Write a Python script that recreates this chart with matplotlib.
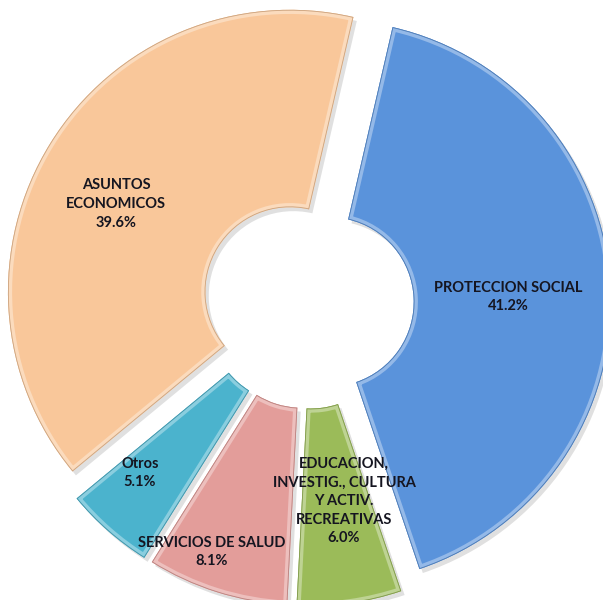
import matplotlib.pyplot as plt
from matplotlib.patches import Wedge
import matplotlib.colors as mcolors

categories = ["PROTECCION SOCIAL", "EDUCACION,\nINVESTIG., CULTURA\nY ACTIV.\nRECREATIVAS",
              "SERVICIOS DE SALUD", "Otros", "ASUNTOS\nECONOMICOS"]
shares = [41.2, 6.0, 8.1, 5.1, 39.6]
colors = ["#5A93DB", "#9BBB59", "#E39D9A", "#4BB3CD", "#F9C79A"]

# label anchor points (axes data units, pie radius = 1)
label_pos = [(0.709, 0.021), (0.128, -0.702), (-0.340, -0.883), (-0.596, -0.603), (-0.681, 0.351)]

plt.rcParams["font.family"] = ["Lato", "DejaVu Sans"]

fig = plt.figure(figsize=(6.03, 6.0), dpi=100)
ax = fig.add_axes([0, 0, 1, 1])

explode = [0.075] * len(shares)

# soft shadow
sh, _ = ax.pie(shares, startangle=77, counterclock=False, explode=explode,
               colors=["#000000"] * len(shares), center=(0.012, -0.014),
               wedgeprops=dict(width=0.70, linewidth=0, alpha=0.12))

wedges, _ = ax.pie(shares, startangle=77, counterclock=False, explode=explode,
                   colors=colors, wedgeprops=dict(width=0.70, linewidth=0))

# bevel look: lighter stroke clipped inside each wedge
for w, c in zip(wedges, colors):
    light = mcolors.to_rgb(c)
    light = tuple(v + (1 - v) * 0.35 for v in light)
    dark = tuple(v * 0.82 for v in mcolors.to_rgb(c))
    bev = Wedge(w.center, w.r, w.theta1, w.theta2, width=w.width,
                facecolor="none", edgecolor=light, linewidth=6)
    ax.add_patch(bev)
    bev.set_clip_path(w)
    out = Wedge(w.center, w.r, w.theta1, w.theta2, width=w.width,
                facecolor="none", edgecolor=dark, linewidth=1.2)
    ax.add_patch(out)
    out.set_clip_path(w)

for name, val, (x, y) in zip(categories, shares, label_pos):
    ax.text(x, y, f"{name}\n{val:.1f}%", ha="center", va="center",
            fontsize=10.5, fontweight="bold", color="#151520", linespacing=1.42)

ax.set_xlim(-1.092, 1.046)
ax.set_ylim(-1.053, 1.074)
ax.set_aspect("equal")
ax.axis("off")

fig.savefig("out.png", dpi=100)
